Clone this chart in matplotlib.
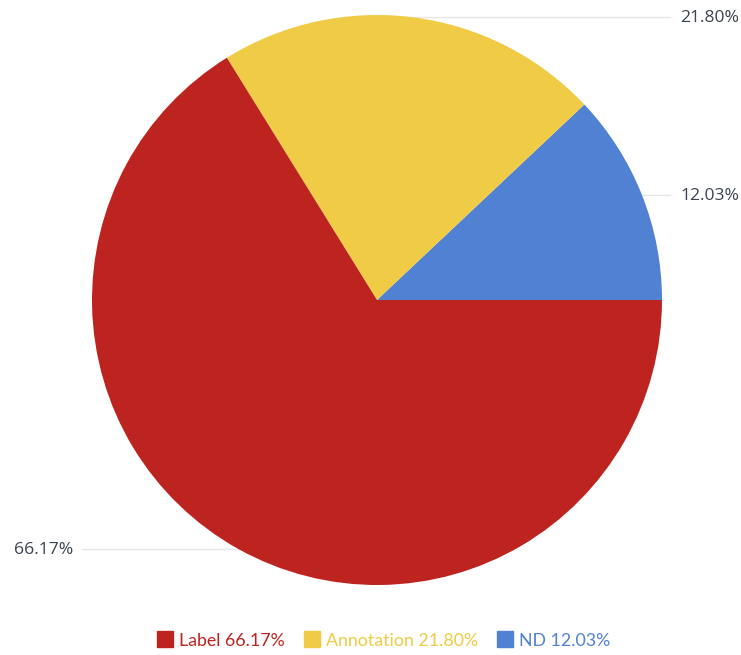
import matplotlib.pyplot as plt
import numpy as np
from matplotlib.lines import Line2D

categories = ["ND", "Annotation", "Label"]
values = [12.03, 21.80, 66.17]
colors = ["#5081d3", "#f0cb45", "#bd2420"]
legend_order = ["Label", "Annotation", "ND"]

W, H = 741, 655
fig = plt.figure(figsize=(W / 100, H / 100), dpi=100)
ax = fig.add_axes([0, 0, 1, 1])

cx, cy, r = 377, H - 300, 285
wedges, _ = ax.pie(values, colors=colors, startangle=0, counterclock=True,
                   radius=r, center=(cx, cy), frame=True,
                   wedgeprops=dict(linewidth=0))
ax.set_xlim(0, W)
ax.set_ylim(0, H)
ax.set_aspect("equal")
ax.axis("off")

label_color = "#3c4350"
for w, v in zip(wedges, values):
    mid = np.deg2rad((w.theta1 + w.theta2) / 2)
    px, py = cx + r * np.cos(mid), cy + r * np.sin(mid)
    txt = f"{v:.2f}%"
    if np.cos(mid) >= 0:
        ax.plot([px - 40, 670], [py, py], color="#e6e6e6", lw=1, zorder=0)
        ax.text(680, py - 1, txt, ha="left", va="center", fontsize=12.6,
                family="Open Sans", color=label_color)
    else:
        ax.plot([82, px + 40], [py, py], color="#e6e6e6", lw=1, zorder=0)
        ax.text(73, py - 1, txt, ha="right", va="center", fontsize=12.6,
                family="Open Sans", color=label_color)

handles = []
labels = []
for name in legend_order:
    i = categories.index(name)
    handles.append(Line2D([], [], marker="s", linestyle="none", markersize=12,
                          markerfacecolor=colors[i], markeredgecolor=colors[i]))
    labels.append(f"{name} {values[i]:.2f}%")

leg = fig.legend(handles, labels, loc="center", bbox_to_anchor=(0.517, 0.022),
                 ncol=3, frameon=False, prop={"family": "Lato", "size": 12.8},
                 handletextpad=0.3, columnspacing=1.0, handlelength=1.0)
for t, name in zip(leg.get_texts(), legend_order):
    t.set_color(colors[categories.index(name)])

fig.savefig("out.png", dpi=100)
